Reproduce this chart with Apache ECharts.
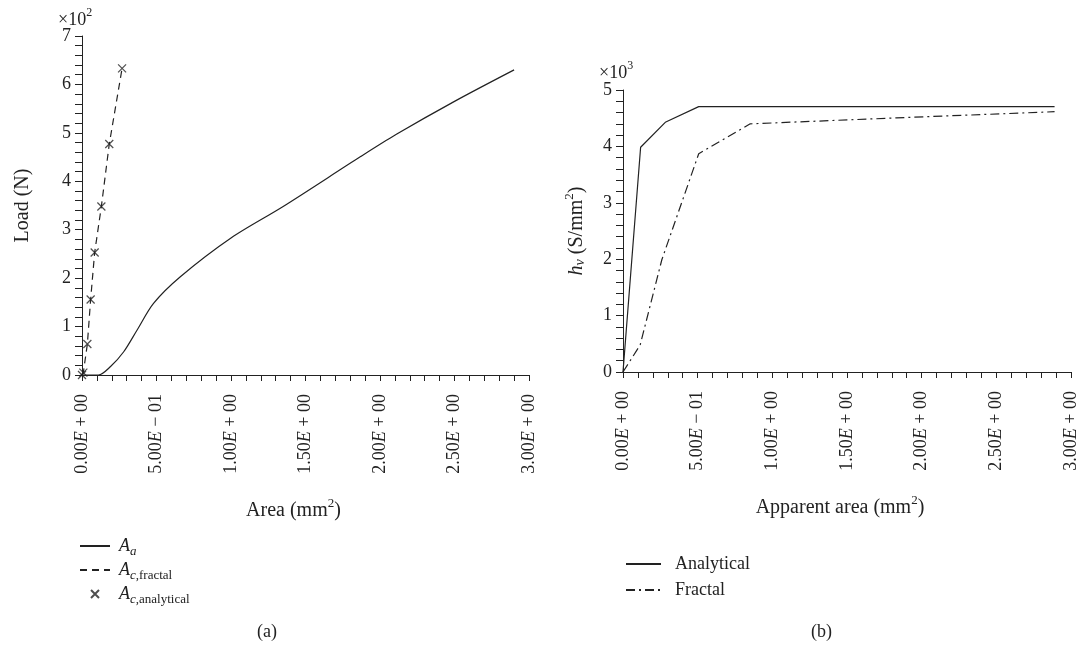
<!DOCTYPE html>
<html>
<head>
<meta charset="utf-8">
<script src="https://cdn.jsdelivr.net/npm/echarts@6/dist/echarts.min.js"></script>
<style>
  html, body { margin: 0; background: #fff; }
  #chart { width: 1081px; height: 650px; }
</style>
</head>
<body>
<div id="chart"></div>
<script>
// tick labels (shared by both x axes)
const xTickLabels = ["0.00E + 00", "5.00E \u2212 01", "1.00E + 00", "1.50E + 00", "2.00E + 00", "2.50E + 00", "3.00E + 00"];

// (a) load vs area
const areaA = [0, 0.05, 0.11, 0.19, 0.28, 0.37, 0.48, 0.66, 1.0, 1.35, 1.87, 2.11, 2.5, 2.9];
const loadA = [0, 0, 0, 17, 48, 93, 148, 203, 283, 348, 451, 497, 565, 630];
const areaC = [0, 0.009, 0.036, 0.058, 0.085, 0.13, 0.183, 0.269];
const loadC = [0, 5, 64, 156, 253, 348, 477, 633];

// (b) h_v vs apparent area
const apparentAnalytical = [0, 0.118, 0.283, 0.507, 2.89];
const hvAnalytical = [0, 3985, 4427, 4705, 4705];
const apparentFractal = [0, 0.115, 0.26, 0.507, 0.852, 1.83, 2.89];
const hvFractal = [0, 480, 1990, 3870, 4400, 4505, 4615];

const FONT = "Liberation Serif";
const INK = "#222";
const pairs = (xs, ys) => xs.map((x, i) => [x, ys[i]]);

const chart = echarts.init(document.getElementById("chart"));

function xLabel(v) {
  const idx = Math.round(v / 0.5);
  const s = xTickLabels[idx];
  if (s == null) return "";
  const parts = s.split("E");
  return "{n|" + parts[0] + "}{e|E}{n|" + parts[1] + "}";
}

const tickRich = {
  n: { fontFamily: FONT, fontSize: 18, color: INK },
  e: { fontFamily: FONT, fontSize: 18, fontStyle: "italic", color: INK }
};

function xAxisFor(gridIndex, nameRich, shift) {
  return {
    type: "value", gridIndex: gridIndex, min: 0, max: 3, interval: 0.5,
    name: nameRich, nameLocation: "middle", nameGap: 122,
    nameTextStyle: {
      padding: [0, shift, 0, 0],
      rich: {
        t: { fontFamily: FONT, fontSize: 20, color: INK, lineHeight: 24, verticalAlign: "bottom" },
        s: { fontFamily: FONT, fontSize: 13, color: INK, lineHeight: 24, verticalAlign: "top" }
      }
    },
    axisLine: { show: true, onZero: false, lineStyle: { color: INK, width: 1 } },
    axisTick: { show: true, inside: false, length: 6, lineStyle: { color: INK } },
    minorTick: { show: true, splitNumber: 5, length: 6, lineStyle: { color: INK } },
    splitLine: { show: false },
    axisLabel: { rotate: 90, margin: 19, formatter: xLabel, rich: tickRich, showMinLabel: true, showMaxLabel: true }
  };
}

function yAxisFor(gridIndex, max, interval, scale, name, gap) {
  return {
    type: "value", gridIndex: gridIndex, min: 0, max: max, interval: interval,
    name: name, nameLocation: "middle", nameGap: gap, nameRotate: 90,
    nameTextStyle: {
      rich: {
        t: { fontFamily: FONT, fontSize: 20, color: INK, lineHeight: 24, verticalAlign: "bottom" },
        i: { fontFamily: FONT, fontSize: 20, fontStyle: "italic", color: INK, lineHeight: 24, verticalAlign: "bottom" },
        sub: { fontFamily: FONT, fontSize: 14, fontStyle: "italic", color: INK, lineHeight: 14, verticalAlign: "bottom" },
        s: { fontFamily: FONT, fontSize: 13, color: INK, lineHeight: 24, verticalAlign: "top" }
      }
    },
    axisLine: { show: true, lineStyle: { color: INK, width: 1 } },
    axisTick: { show: true, length: 7, lineStyle: { color: INK } },
    minorTick: { show: true, splitNumber: 5, length: 7, lineStyle: { color: INK } },
    splitLine: { show: false },
    axisLabel: { margin: 11, fontFamily: FONT, fontSize: 18, color: INK, formatter: v => String(Math.round(v / scale)) }
  };
}

const legendRich = {
  t: { fontFamily: FONT, fontSize: 18, color: INK, lineHeight: 24 },
  a: { fontFamily: FONT, fontSize: 18, fontStyle: "italic", color: INK, lineHeight: 24 },
  si: { fontFamily: FONT, fontSize: 13, fontStyle: "italic", color: INK, lineHeight: 12, verticalAlign: "bottom" },
  sn: { fontFamily: FONT, fontSize: 13, color: INK, lineHeight: 12, verticalAlign: "bottom" }
};
const legendNames = {
  "Aa": "{a|A}{si|a}",
  "Ac,fractal": "{a|A}{si|c}{sn|,fractal}",
  "Ac,analytical": "{a|A}{si|c}{sn|,analytical}",
  "Analytical": "{t|Analytical}",
  "Fractal": "{t|Fractal}"
};
// line-only legend entries: hide the symbol, keep the line sample
const lineItem = name => ({ name: name, itemStyle: { opacity: 0 } });

const option = {
  backgroundColor: "#fff",
  animation: false,
  grid: [
    { left: 82, top: 36, width: 447, height: 339, outerBoundsMode: "none" },
    { left: 623, top: 90, width: 448, height: 282, outerBoundsMode: "none" }
  ],
  xAxis: [
    xAxisFor(0, "{t|Area (mm}{s|2}{t|)}", 24),
    xAxisFor(1, "{t|Apparent area (mm}{s|2}{t|)}", 14)
  ],
  yAxis: [
    yAxisFor(0, 700, 100, 100, "{t|Load (N)}", 49),
    yAxisFor(1, 5000, 1000, 1000, "{i|h}{sub|v}{t| (S/mm}{s|2}{t|)}", 36)
  ],
  legend: [
    {
      orient: "vertical", left: 79, top: 537, padding: 0, itemWidth: 30, itemHeight: 8, itemGap: 3,
      selectedMode: false,
      data: [lineItem("Aa"), lineItem("Ac,fractal"), "Ac,analytical"],
      formatter: n => legendNames[n],
      textStyle: { rich: legendRich, padding: [0, 0, 0, 4] }
    },
    {
      orient: "vertical", left: 625, top: 555, padding: 0, itemWidth: 35, itemHeight: 10, itemGap: 8,
      selectedMode: false,
      data: [lineItem("Analytical"), lineItem("Fractal")],
      formatter: n => legendNames[n],
      textStyle: { rich: legendRich, padding: [0, 0, 0, 9] }
    }
  ],
  graphic: [
    { type: "text", left: 58, top: 7, style: { text: "{t|\u00d710}{s|2}", rich: { t: { fontFamily: FONT, fontSize: 18, fill: INK, lineHeight: 22, verticalAlign: "bottom" }, s: { fontFamily: FONT, fontSize: 12, fill: INK, lineHeight: 22, verticalAlign: "top" } } } },
    { type: "text", left: 599, top: 60, style: { text: "{t|\u00d710}{s|3}", rich: { t: { fontFamily: FONT, fontSize: 18, fill: INK, lineHeight: 22, verticalAlign: "bottom" }, s: { fontFamily: FONT, fontSize: 12, fill: INK, lineHeight: 22, verticalAlign: "top" } } } },
    { type: "text", left: 257, top: 623, style: { text: "(a)", font: "18px " + FONT, fill: INK } },
    { type: "text", left: 811, top: 623, style: { text: "(b)", font: "18px " + FONT, fill: INK } }
  ],
  series: [
    {
      name: "Aa", type: "line", xAxisIndex: 0, yAxisIndex: 0, symbol: "none", smooth: 0.3,
      lineStyle: { color: INK, width: 1.2 }, itemStyle: { color: INK },
      data: pairs(areaA, loadA)
    },
    {
      name: "Ac,fractal", type: "line", xAxisIndex: 0, yAxisIndex: 0, symbol: "none",
      lineStyle: { color: INK, width: 1.2, type: [7, 5] }, itemStyle: { color: INK },
      data: pairs(areaC, loadC)
    },
    {
      name: "Ac,analytical", type: "scatter", xAxisIndex: 0, yAxisIndex: 0,
      symbol: "path://M0,0L10,10M10,0L0,10", symbolSize: 8,
      itemStyle: { color: "none", borderColor: INK, borderWidth: 1.2 },
      data: pairs(areaC, loadC)
    },
    {
      name: "Analytical", type: "line", xAxisIndex: 1, yAxisIndex: 1, symbol: "none",
      lineStyle: { color: INK, width: 1.2 }, itemStyle: { color: INK },
      data: pairs(apparentAnalytical, hvAnalytical)
    },
    {
      name: "Fractal", type: "line", xAxisIndex: 1, yAxisIndex: 1, symbol: "none",
      lineStyle: { color: INK, width: 1.2, type: [9, 4, 2, 4] }, itemStyle: { color: INK },
      data: pairs(apparentFractal, hvFractal)
    }
  ]
};

chart.setOption(option);
</script>
</body>
</html>
